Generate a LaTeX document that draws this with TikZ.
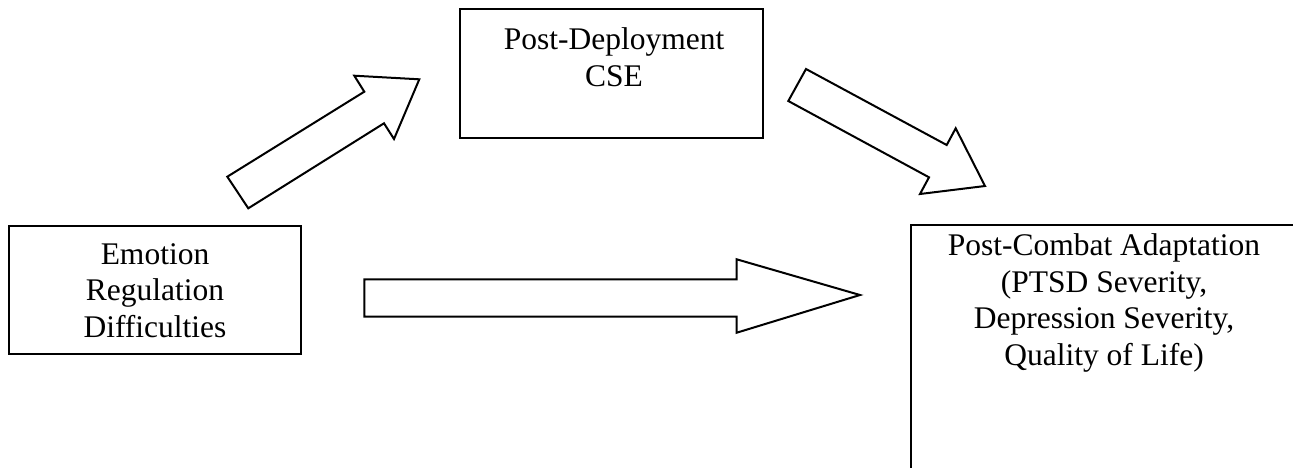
\documentclass[tikz,border=0pt]{standalone}
\usepackage{fontspec}
\setmainfont{Liberation Serif}
\begin{document}
\begin{tikzpicture}[x=1pt,y=-1pt,
  line join=miter,
  box/.style={draw=black,line width=2pt,rectangle,inner sep=0pt,anchor=north west},
  caption/.style={align=center,inner sep=0pt,font=\fontsize{31.5}{36.5}\selectfont},
  blockarrow/.style={draw=black,line width=2pt,fill=white}]
\useasboundingbox (0,0) rectangle (1293,467);
\clip (0,0) rectangle (1293,467);

% boxes
\node[box,minimum width=292pt,minimum height=128pt] (erd) at (8,225) {};
\node[box,minimum width=303pt,minimum height=129pt] (cse) at (459,8) {};
\node[box,minimum width=390pt,minimum height=260pt] (pca) at (910,224) {};

% box texts (anchored at the baseline of their last line)
\node[caption,anchor=base] (erdtext) at (155,337) {Emotion\\Regulation\\Difficulties};
\node[caption,anchor=base] (csetext) at (614,86) {Post-Deployment\\CSE};
\node[caption,anchor=base] (pcatext) at (1104,365) {Post-Combat Adaptation\\(PTSD Severity,\\Depression Severity,\\Quality of Life)};

% block arrows
\draw[blockarrow] (227.3,176.7) -- (364.3,91.7) -- (354.3,75.7) -- (419.3,79.3)
  -- (394,139) -- (384,123.3) -- (248.3,208.3) -- cycle;
\draw[blockarrow] (806,69) -- (946.7,145) -- (955.7,128.3) -- (985,186)
  -- (920,194) -- (929,177.3) -- (788.3,101) -- cycle;
\draw[blockarrow] (364.3,279.3) -- (736.7,279.3) -- (736.7,259.3) -- (860,295)
  -- (736.7,332.7) -- (736.7,316.7) -- (364.3,316.7) -- cycle;
\end{tikzpicture}
\end{document}
